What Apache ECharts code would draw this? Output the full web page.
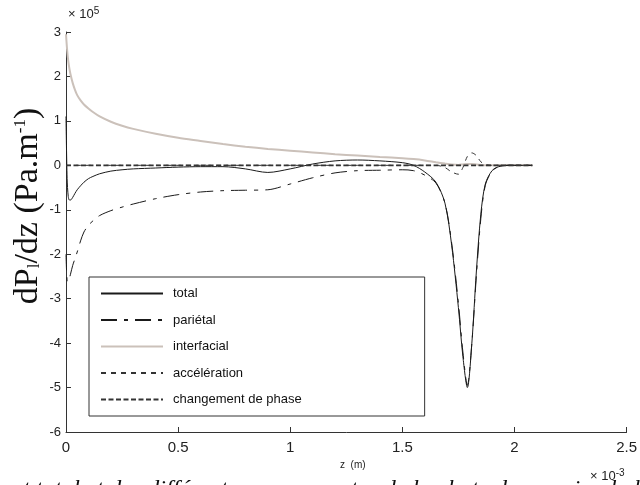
<!DOCTYPE html>
<html>
<head>
<meta charset="utf-8">
<script src="https://cdn.jsdelivr.net/npm/echarts@6/dist/echarts.min.js"></script>
<style>html,body{margin:0;padding:0;background:#fff;}#c{width:640px;height:485px;}</style>
</head>
<body>
<div id="c"></div>
<script>
// z in units of 1e-3 m, gradients in units of 1e5 Pa/m
const z = [0, 0.005, 0.01, 0.015, 0.02, 0.03, 0.04, 0.05, 0.065, 0.08, 0.1, 0.12, 0.15, 0.2, 0.25, 0.3, 0.4, 0.5, 0.6, 0.7, 0.8, 0.9, 1.0, 1.1, 1.2, 1.3, 1.4, 1.5, 1.55, 1.6, 1.65, 1.69, 1.72, 1.75, 1.77, 1.79, 1.81, 1.83, 1.85, 1.87, 1.9, 1.93, 1.97, 2.0, 2.04, 2.08];
const total = [1.1, -0.3, -0.7, -0.78, -0.78, -0.72, -0.63, -0.55, -0.46, -0.38, -0.3, -0.25, -0.19, -0.13, -0.1, -0.08, -0.06, -0.04, -0.03, -0.03, -0.08, -0.16, -0.08, 0.03, 0.1, 0.12, 0.1, 0.06, 0.0, -0.15, -0.38, -0.85, -1.8, -3.2, -4.3, -5.0, -4.0, -2.4, -1.1, -0.42, -0.12, -0.03, 0, 0, 0, 0];
const parietal = [-2.0, -2.6, -2.62, -2.55, -2.45, -2.25, -2.1, -1.95, -1.7, -1.5, -1.35, -1.25, -1.13, -1.02, -0.94, -0.87, -0.75, -0.66, -0.6, -0.57, -0.56, -0.55, -0.42, -0.28, -0.17, -0.12, -0.11, -0.1, -0.12, -0.22, -0.4, -0.85, -1.75, -3.1, -4.2, -4.95, -4.0, -2.5, -1.2, -0.45, -0.13, -0.03, 0, 0, 0, 0];
const interfacial = [2.95, 2.6, 2.35, 2.18, 2.05, 1.85, 1.7, 1.58, 1.46, 1.37, 1.28, 1.2, 1.1, 0.98, 0.89, 0.82, 0.71, 0.62, 0.55, 0.48, 0.42, 0.37, 0.33, 0.29, 0.25, 0.22, 0.19, 0.16, 0.14, 0.11, 0.07, 0.04, 0.02, 0.01, 0.02, 0.03, 0.03, 0.02, 0.01, 0, 0, 0, 0, 0, 0, 0];
const acceleration = [0, 0, 0, 0, 0, 0, 0, 0, 0, 0, 0, 0, 0, 0, 0, 0, 0, 0, 0, 0, 0, 0, 0, 0, 0, 0, 0, 0, 0, 0, 0, -0.05, -0.15, -0.2, -0.05, 0.2, 0.28, 0.22, 0.08, 0.02, 0, 0, 0, 0, 0, 0];
const changement = [0, 0, 0, 0, 0, 0, 0, 0, 0, 0, 0, 0, 0, 0, 0, 0, 0, 0, 0, 0, 0, 0, 0, 0, 0, 0, 0, 0, 0, 0, 0, 0, 0, 0, 0, 0, 0, 0, 0, 0, 0, 0, 0, 0, 0, 0];
const seriesNames = ['total', 'pariétal', 'interfacial', 'accélération', 'changement de phase'];
const xTicks = [0, 0.5, 1, 1.5, 2, 2.5];
const yTicks = [-6, -5, -4, -3, -2, -1, 0, 1, 2, 3];

const pair = arr => z.map((v, i) => [v, arr[i]]);
const chart = echarts.init(document.getElementById('c'), null, {renderer: 'canvas'});
const sans = 'Liberation Sans, Arial, Helvetica, sans-serif';
const serif = 'Liberation Serif, Times New Roman, serif';

function mk(name, data, color, width, type, z2) {
  return {
    name: name, type: 'line', data: pair(data), symbol: 'none', showSymbol: false,
    smooth: 0.3, z: z2,
    lineStyle: {color: color, width: width, type: type},
    itemStyle: {color: color},
    emphasis: {disabled: true}
  };
}

chart.setOption({
  animation: false,
  backgroundColor: '#fff',
  grid: {left: 66, right: 6, top: 32, bottom: 53, containLabel: false},
  xAxis: {
    type: 'value', min: xTicks[0], max: xTicks[xTicks.length - 1], interval: 0.5,
    axisLine: {show: true, onZero: false, lineStyle: {color: '#333', width: 1}},
    axisTick: {show: true, inside: true, length: 5, lineStyle: {color: '#333'}},
    axisLabel: {color: '#222', fontSize: 15, fontFamily: sans, margin: 8},
    splitLine: {show: false}
  },
  yAxis: {
    type: 'value', min: yTicks[0], max: yTicks[yTicks.length - 1], interval: 1,
    axisLine: {show: true, onZero: false, lineStyle: {color: '#333', width: 1}},
    axisTick: {show: true, inside: true, length: 5, lineStyle: {color: '#333'}},
    axisLabel: {color: '#222', fontSize: 13, fontFamily: sans, margin: 5},
    splitLine: {show: false}
  },
  legend: {
    orient: 'vertical', left: 89, top: 277,
    padding: [10, 123, 10, 11], itemGap: 13.5, itemWidth: 62, itemHeight: 14,
    borderColor: '#333', borderWidth: 1, backgroundColor: '#fff',
    itemStyle: {opacity: 0},
    textStyle: {color: '#111', fontSize: 13, fontFamily: sans, padding: [0, 0, 0, 5]},
    data: seriesNames,
    selectedMode: false
  },
  graphic: [
    {type: 'text', left: 68, top: 6, style: {text: '× 10{s|5}', fill: '#222', font: '13px ' + sans,
      rich: {s: {fontSize: 10, verticalAlign: 'top', padding: [0, 0, 6, 0], fill: '#222'}}}},
    {type: 'text', left: 340, top: 460, style: {text: 'z  (m)', fill: '#222', font: '10px ' + sans}},
    {type: 'text', left: 590, top: 468, style: {text: '× 10{s|-3}', fill: '#222', font: '13px ' + sans,
      rich: {s: {fontSize: 10, verticalAlign: 'top', padding: [0, 0, 6, 0], fill: '#222'}}}},
    {type: 'text', x: 28, y: 206, rotation: Math.PI / 2,
      style: {text: 'dP{sub|l}/dz (Pa.m{sup|-1})', fill: '#111', font: '34px ' + serif, align: 'center', verticalAlign: 'middle',
        rich: {sub: {fontSize: 17, fontFamily: serif, padding: [13, 0, 0, 0], fill: '#111'},
               sup: {fontSize: 17, fontFamily: serif, padding: [0, 0, 15, 0], fill: '#111'}}}},
    {type: 'text', left: -6, top: 478, style: {text: 'ient total et des différentes composantes de la chute de pression le long de l\'évaporateur', fill: '#111', font: 'italic 24px ' + serif}}
  ],
  series: [
    mk(seriesNames[0], total, '#1a1a1a', 1, 'solid', 5),
    mk(seriesNames[1], parietal, '#1a1a1a', 1, [16, 7, 4, 7], 4),
    mk(seriesNames[2], interfacial, '#cbc1ba', 2, 'solid', 2),
    mk(seriesNames[3], acceleration, '#333', 1, [5, 5], 3),
    mk(seriesNames[4], changement, '#333', 1.8, [5, 2.5], 6)
  ]
});
</script>
</body>
</html>
